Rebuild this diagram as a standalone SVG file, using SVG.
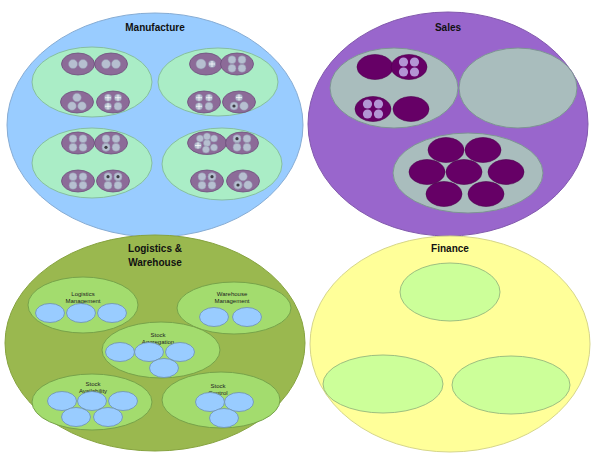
<svg xmlns="http://www.w3.org/2000/svg" xmlns:xlink="http://www.w3.org/1999/xlink" width="591" height="453" viewBox="0 0 591 453">
  <style>
    .title { font-family: "Liberation Sans", Arial, sans-serif; font-size: 10px; font-weight: bold; fill: #111; text-anchor: middle; }
    .lbl { font-family: "Liberation Sans", Arial, sans-serif; font-size: 6px; fill: #222; text-anchor: middle; }
    .mfg { fill: #99ccff; stroke: #86acd4; stroke-width: 1; }
    .mint { fill: #aaedc6; stroke: #86bfa0; stroke-width: 1; }
    .pu { fill: #8c6b98; stroke: #6e4f7c; stroke-width: 0.8; }
    .sc { fill: #b6bfd0; stroke: #8f8fab; stroke-width: 0.5; }
    .dot { fill: #3d3d45; }
    .xl { stroke: #ffffff; stroke-width: 0.7; }
    .sales { fill: #9966cc; stroke: #8259ad; stroke-width: 1; }
    .grey { fill: #a9bdbd; stroke: #7e9494; stroke-width: 1; }
    .dp { fill: #660066; stroke: #4e004e; stroke-width: 0.6; }
    .lp { fill: #b394d4; }
    .log { fill: #9ab84f; stroke: #86a33f; stroke-width: 1; }
    .lg { fill: #a3dc6e; stroke: #77a34a; stroke-width: 1; }
    .bl { fill: #99ccff; stroke: #6d8fb3; stroke-width: 0.8; }
    .fin { fill: #ffff99; stroke: #d6d68a; stroke-width: 1; }
    .fg { fill: #ccff99; stroke: #9dbf80; stroke-width: 1; }
  </style>
  <defs>
    <!-- purple sub-group shell -->
    <ellipse id="shell" class="pu" cx="0" cy="0" rx="16.5" ry="11"/>
    <!-- small circle with a white cross -->
    <g id="xc">
      <circle class="sc" r="3.6"/>
      <line class="xl" x1="-3" y1="0" x2="3" y2="0"/>
      <line class="xl" x1="0" y1="-3" x2="0" y2="3"/>
    </g>
    <!-- small circle with a dark centre dot -->
    <g id="dc">
      <circle class="sc" r="4"/>
      <circle class="dot" r="1.6"/>
    </g>
    <g id="pair">
      <use xlink:href="#shell"/>
      <circle class="sc" cx="-5" cy="0" r="4.5"/>
      <circle class="sc" cx="5" cy="0" r="4.5"/>
    </g>
    <g id="tri">
      <use xlink:href="#shell"/>
      <circle class="sc" cx="0" cy="-4.5" r="4.3"/>
      <circle class="sc" cx="-5" cy="4" r="4.3"/>
      <circle class="sc" cx="5" cy="4" r="4.3"/>
    </g>
    <g id="quad">
      <use xlink:href="#shell"/>
      <circle class="sc" cx="-5" cy="-4.3" r="4"/>
      <circle class="sc" cx="5" cy="-4.3" r="4"/>
      <circle class="sc" cx="-5" cy="4.3" r="4"/>
      <circle class="sc" cx="5" cy="4.3" r="4"/>
    </g>
    <g id="quadx">
      <use xlink:href="#shell"/>
      <use xlink:href="#xc" x="-5" y="-4.3"/>
      <use xlink:href="#xc" x="5" y="-4.3"/>
      <use xlink:href="#xc" x="-5" y="4.3"/>
      <circle class="sc" cx="5" cy="4.3" r="4"/>
    </g>
    <!-- sales sub-group -->
    <ellipse id="dshell" class="dp" cx="0" cy="0" rx="18" ry="12.5"/>
    <g id="dquad">
      <use xlink:href="#dshell"/>
      <circle class="lp" cx="-5.5" cy="-5" r="4.6"/>
      <circle class="lp" cx="5.5" cy="-5" r="4.6"/>
      <circle class="lp" cx="-5.5" cy="5" r="4.6"/>
      <circle class="lp" cx="5.5" cy="5" r="4.6"/>
    </g>
    <ellipse id="bsub" class="bl" cx="0" cy="0" rx="14.5" ry="9.5"/>
  </defs>

  <!-- Manufacture -->
  <g id="manufacture">
    <ellipse class="mfg" cx="155" cy="125" rx="148" ry="112"/>
    <text class="title" x="155" y="31">Manufacture</text>
    <g id="mfg-a">
      <ellipse class="mint" cx="92" cy="82" rx="60" ry="35"/>
      <use xlink:href="#pair" x="78" y="64"/>
      <use xlink:href="#pair" x="111" y="64"/>
      <use xlink:href="#tri" x="77" y="102"/>
      <use xlink:href="#quadx" x="113" y="102"/>
    </g>
    <g id="mfg-b">
      <ellipse class="mint" cx="218" cy="82" rx="60" ry="34"/>
      <g transform="translate(206,64)">
        <use xlink:href="#shell"/>
        <circle class="sc" cx="-5" cy="0" r="5"/>
        <use xlink:href="#xc" x="6" y="0"/>
      </g>
      <use xlink:href="#quad" x="237" y="64"/>
      <use xlink:href="#quadx" x="204" y="102"/>
      <g transform="translate(239,102)">
        <use xlink:href="#shell"/>
        <use xlink:href="#xc" x="0" y="-4.5"/>
        <use xlink:href="#dc" x="-5" y="4"/>
        <circle class="sc" cx="5" cy="4" r="4.3"/>
      </g>
    </g>
    <g id="mfg-c">
      <ellipse class="mint" cx="92" cy="163" rx="60" ry="35"/>
      <use xlink:href="#quad" x="78" y="143"/>
      <g transform="translate(111,143)">
        <use xlink:href="#quad"/>
        <use xlink:href="#dc" x="-5" y="4.3"/>
      </g>
      <use xlink:href="#quad" x="78" y="181"/>
      <g transform="translate(113,181)">
        <use xlink:href="#quad"/>
        <use xlink:href="#dc" x="-5" y="-4.3"/>
        <use xlink:href="#dc" x="5" y="-4.3"/>
      </g>
    </g>
    <g id="mfg-d">
      <ellipse class="mint" cx="222" cy="164" rx="60" ry="36"/>
      <g transform="translate(207,143)">
        <ellipse class="pu" rx="19.5" ry="11.5"/>
        <circle class="sc" cx="0" cy="0" r="3.6"/>
        <circle class="sc" cx="-7" cy="-4.5" r="3.6"/>
        <circle class="sc" cx="0" cy="-6.5" r="3.6"/>
        <circle class="sc" cx="7" cy="-4.5" r="3.6"/>
        <use xlink:href="#xc" x="-9" y="2.5"/>
        <circle class="sc" cx="7" cy="4.5" r="3.6"/>
        <circle class="sc" cx="-1" cy="6.5" r="3.6"/>
      </g>
      <g transform="translate(242,143)">
        <use xlink:href="#quad"/>
        <use xlink:href="#dc" x="-5" y="-4.3"/>
      </g>
      <g transform="translate(207,181)">
        <use xlink:href="#quad"/>
        <use xlink:href="#dc" x="5" y="-4.3"/>
      </g>
      <g transform="translate(243,181)">
        <use xlink:href="#tri"/>
        <use xlink:href="#dc" x="-5" y="4"/>
      </g>
    </g>
  </g>

  <!-- Sales -->
  <g id="sales">
    <ellipse class="sales" cx="448" cy="124" rx="140" ry="112"/>
    <text class="title" x="448" y="31">Sales</text>
    <g id="sales-a">
      <ellipse class="grey" cx="394" cy="88" rx="64" ry="40"/>
      <use xlink:href="#dshell" x="375" y="67"/>
      <use xlink:href="#dquad" x="409" y="67"/>
      <use xlink:href="#dquad" x="373" y="109"/>
      <use xlink:href="#dshell" x="411" y="109"/>
    </g>
    <g id="sales-b">
      <ellipse class="grey" cx="518" cy="88" rx="59" ry="40"/>
    </g>
    <g id="sales-c">
      <ellipse class="grey" cx="468" cy="173" rx="75" ry="40"/>
      <use xlink:href="#dshell" x="446" y="150"/>
      <use xlink:href="#dshell" x="483" y="150"/>
      <use xlink:href="#dshell" x="427" y="172"/>
      <use xlink:href="#dshell" x="464" y="172"/>
      <use xlink:href="#dshell" x="506" y="172"/>
      <use xlink:href="#dshell" x="444" y="194"/>
      <use xlink:href="#dshell" x="486" y="194"/>
    </g>
  </g>

  <!-- Logistics & Warehouse -->
  <g id="logistics">
    <ellipse class="log" cx="155" cy="343" rx="150" ry="108"/>
    <text class="title" x="155" y="252">Logistics &amp;</text>
    <text class="title" x="155" y="266">Warehouse</text>
    <g id="logistics-management">
      <ellipse class="lg" cx="83" cy="305" rx="55" ry="28"/>
      <text class="lbl" x="83" y="296">Logistics</text>
      <text class="lbl" x="83" y="303">Management</text>
      <use xlink:href="#bsub" x="50" y="313"/>
      <use xlink:href="#bsub" x="81" y="313"/>
      <use xlink:href="#bsub" x="112" y="313"/>
    </g>
    <g id="warehouse-management">
      <ellipse class="lg" cx="234" cy="308" rx="57" ry="26"/>
      <text class="lbl" x="232" y="296">Warehouse</text>
      <text class="lbl" x="232" y="303">Management</text>
      <use xlink:href="#bsub" x="214" y="317"/>
      <use xlink:href="#bsub" x="247" y="317"/>
    </g>
    <g id="stock-aggregation">
      <ellipse class="lg" cx="161" cy="350" rx="59" ry="28"/>
      <text class="lbl" x="158" y="337">Stock</text>
      <text class="lbl" x="158" y="344">Aggregation</text>
      <use xlink:href="#bsub" x="120" y="352"/>
      <use xlink:href="#bsub" x="149" y="352"/>
      <use xlink:href="#bsub" x="180" y="352"/>
      <use xlink:href="#bsub" x="164" y="368"/>
    </g>
    <g id="stock-availability">
      <ellipse class="lg" cx="92" cy="402" rx="60" ry="28"/>
      <text class="lbl" x="93" y="386">Stock</text>
      <text class="lbl" x="93" y="393">Availability</text>
      <use xlink:href="#bsub" x="62" y="401"/>
      <use xlink:href="#bsub" x="92" y="401"/>
      <use xlink:href="#bsub" x="123" y="401"/>
      <use xlink:href="#bsub" x="76" y="417"/>
      <use xlink:href="#bsub" x="108" y="417"/>
    </g>
    <g id="stock-control">
      <ellipse class="lg" cx="221" cy="400" rx="59" ry="28"/>
      <text class="lbl" x="218" y="388">Stock</text>
      <text class="lbl" x="218" y="395">Control</text>
      <use xlink:href="#bsub" x="210" y="402"/>
      <use xlink:href="#bsub" x="239" y="402"/>
      <use xlink:href="#bsub" x="224" y="418"/>
    </g>
  </g>

  <!-- Finance -->
  <g id="finance">
    <ellipse class="fin" cx="450" cy="344" rx="140" ry="108"/>
    <text class="title" x="450" y="252">Finance</text>
    <g id="finance-a"><ellipse class="fg" cx="450" cy="292" rx="50" ry="29"/></g>
    <g id="finance-b"><ellipse class="fg" cx="383" cy="384" rx="60" ry="29"/></g>
    <g id="finance-c"><ellipse class="fg" cx="511" cy="385" rx="59" ry="29"/></g>
  </g>
</svg>
